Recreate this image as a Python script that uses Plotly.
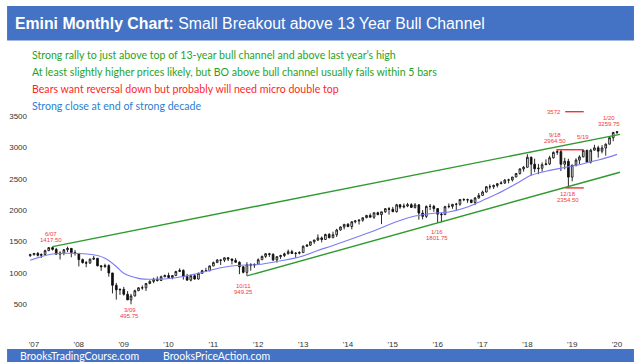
import plotly.graph_objects as go
import pandas as pd

# ---------------- data (monthly OHLC, Dec 2006 .. Jan 2020, back-adjusted Emini) ----------------
open_2006 = [1271]
high_2006 = [1302]
low_2006 = [1255]
close_2006 = [1288]

open_2007 = [1288, 1308, 1277, 1291, 1352, 1401, 1373, 1295, 1314, 1367, 1389, 1321]
high_2007 = [1311, 1331, 1308, 1368, 1405, 1417.5, 1396, 1343, 1379, 1416, 1392, 1363]
low_2007 = [1273, 1260, 1234, 1286, 1346, 1354, 1294, 1211, 1279, 1330, 1247, 1275]
close_2007 = [1308, 1277, 1291, 1352, 1401, 1373, 1295, 1314, 1367, 1389, 1321, 1308]

open_2008 = [1308, 1209, 1161, 1153, 1216, 1230, 1110, 1097, 1113, 996, 799, 726]
high_2008 = [1312, 1226, 1189, 1228, 1270, 1235, 1122, 1144, 1134, 997, 837, 749]
low_2008 = [1100, 1147, 1087, 1145, 1203, 1102, 1030, 1078, 937, 670, 571, 645]
close_2008 = [1209, 1161, 1153, 1216, 1230, 1110, 1097, 1113, 996, 799, 726, 733]

open_2009 = [733, 656, 566, 628, 713, 759, 759, 827, 861, 897, 876, 936]
high_2009 = [774, 706, 662, 728, 770, 796, 836, 879, 920, 941, 953, 970]
low_2009 = [635, 565, 495.75, 623, 706, 728, 709, 818, 832, 860, 869, 926]
close_2009 = [656, 566, 628, 713, 759, 759, 827, 861, 897, 876, 936, 955]

open_2010 = [955, 924, 954, 1019, 1037, 939, 881, 952, 899, 991, 1033, 1031]
high_2010 = [1000, 963, 1031, 1070, 1053, 981, 970, 979, 1000, 1046, 1078, 1113]
low_2010 = [921, 895, 952, 1017, 890, 879, 861, 890, 890, 982, 1023, 1024]
close_2010 = [924, 954, 1019, 1037, 939, 881, 952, 899, 991, 1033, 1031, 1108]

open_2011 = [1108, 1161, 1202, 1201, 1239, 1220, 1196, 1167, 1094, 1006, 1128, 1122]
high_2011 = [1178, 1219, 1208, 1241, 1246, 1221, 1232, 1182, 1105, 1168, 1152, 1145]
low_2011 = [1105, 1159, 1124, 1170, 1186, 1133, 1157, 977, 989, 949.25, 1033, 1077]
close_2011 = [1161, 1202, 1201, 1239, 1220, 1196, 1167, 1094, 1006, 1128, 1122, 1133]

open_2012 = [1133, 1207, 1261, 1303, 1293, 1205, 1257, 1274, 1302, 1336, 1307, 1311]
high_2012 = [1229, 1273, 1315, 1317, 1311, 1258, 1287, 1321, 1370, 1366, 1330, 1343]
low_2012 = [1133, 1207, 1236, 1253, 1187, 1162, 1220, 1250, 1292, 1298, 1238, 1294]
close_2012 = [1207, 1261, 1303, 1293, 1205, 1257, 1274, 1302, 1336, 1307, 1311, 1321]

open_2013 = [1321, 1423, 1440, 1494, 1523, 1556, 1531, 1611, 1558, 1607, 1682, 1731]
high_2013 = [1435, 1455, 1495, 1523, 1612, 1579, 1623, 1634, 1655, 1701, 1738, 1774]
low_2013 = [1321, 1410, 1426, 1461, 1506, 1485, 1530, 1552, 1558, 1571, 1672, 1693]
close_2013 = [1423, 1440, 1494, 1523, 1556, 1531, 1611, 1558, 1607, 1682, 1731, 1773]

open_2014 = [1775, 1738, 1814, 1827, 1839, 1879, 1915, 1886, 1958, 1927, 1973, 2023]
high_2014 = [1790, 1822, 1839, 1852, 1879, 1923, 1947, 1960, 1974, 1973, 2031, 2048]
low_2014 = [1726, 1693, 1789, 1770, 1814, 1870, 1886, 1860, 1920, 1776, 1956, 1928]
close_2014 = [1738, 1814, 1827, 1839, 1879, 1915, 1886, 1958, 1927, 1973, 2023, 2014]

open_2015 = [2014, 1975, 2085, 2048, 2066, 2087, 2043, 2084, 1952, 1900, 2059, 2060]
high_2015 = [2052, 2100, 2097, 2106, 2115, 2110, 2113, 2093, 2001, 2074, 2097, 2084]
low_2015 = [1968, 1960, 2019, 2028, 2047, 2037, 2024, 1847, 1852, 1874, 1999, 1973]
close_2015 = [1975, 2085, 2048, 2066, 2087, 2043, 2084, 1952, 1900, 2059, 2060, 2024]

open_2016 = [2024, 1935, 1927, 2055, 2060, 2092, 2094, 2169, 2166, 2163, 2121, 2194]
high_2016 = [2030, 1958, 2068, 2107, 2099, 2116, 2173, 2189, 2183, 2164, 2209, 2273]
low_2016 = [1801.75, 1805, 1927, 2029, 2021, 1987, 2070, 2143, 2115, 2110, 2079, 2183]
close_2016 = [1935, 1927, 2055, 2060, 2092, 2094, 2169, 2166, 2163, 2121, 2194, 2234]

open_2017 = [2234, 2289, 2374, 2373, 2394, 2422, 2433, 2480, 2482, 2529, 2585, 2658]
high_2017 = [2311, 2382, 2411, 2408, 2428, 2464, 2494, 2501, 2529, 2592, 2667, 2705]
low_2017 = [2233, 2281, 2332, 2339, 2362, 2415, 2418, 2427, 2456, 2525, 2567, 2615]
close_2017 = [2289, 2374, 2373, 2394, 2422, 2433, 2480, 2482, 2529, 2585, 2658, 2684]

open_2018 = [2684, 2844, 2734, 2661, 2668, 2725, 2738, 2836, 2922, 2934, 2732, 2780]
high_2018 = [2893, 2855, 2821, 2738, 2762, 2811, 2868, 2937, 2964.5, 2960, 2836, 2820]
low_2018 = [2680, 2553, 2605, 2573, 2614, 2718, 2719, 2823, 2884, 2624, 2651, 2354.5]
close_2018 = [2844, 2734, 2661, 2668, 2725, 2738, 2836, 2922, 2934, 2732, 2780, 2527]

open_2019 = [2527, 2719, 2799, 2849, 2955, 2767, 2957, 2995, 2941, 2992, 3053, 3156]
high_2019 = [2723, 2828, 2875, 2960, 2964.5, 2979, 3043, 3029, 3037, 3065, 3169, 3250]
low_2019 = [2459, 2697, 2737, 2845, 2766, 2744, 2952, 2837, 2906, 2870, 3050, 3100]
close_2019 = [2719, 2799, 2849, 2955, 2767, 2957, 2995, 2941, 2992, 3053, 3156, 3240]

open_2020 = [3240]
high_2020 = [3259.75]
low_2020 = [3215]
close_2020 = [3252]

years = ["2006", "2007", "2008", "2009", "2010", "2011", "2012", "2013",
         "2014", "2015", "2016", "2017", "2018", "2019", "2020"]
g = globals()
opens = sum([g["open_" + y] for y in years], [])
highs = sum([g["high_" + y] for y in years], [])
lows = sum([g["low_" + y] for y in years], [])
closes = sum([g["close_" + y] for y in years], [])
months = pd.date_range("2006-12-01", periods=len(closes), freq="MS")

# moving average (blue line)
ma_dates = ["2006-12-01", "2007-06-01", "2007-11-01", "2008-06-01", "2008-08-01", "2008-11-01",
            "2009-01-01", "2009-05-01", "2009-09-01", "2010-03-01", "2010-09-01", "2011-03-01",
            "2011-08-01", "2012-01-01", "2012-07-01", "2012-12-01", "2013-05-01", "2013-09-01",
            "2014-06-01", "2015-03-01", "2015-07-01", "2015-12-01", "2016-04-01", "2016-09-01",
            "2017-01-01", "2017-05-01", "2017-10-01", "2018-02-01", "2018-07-01", "2018-11-01",
            "2019-04-01", "2019-08-01", "2019-11-01", "2020-01-01"]
ma_values = [1200, 1300, 1310, 1275, 1230, 1100, 990, 910, 895, 920, 990, 1080,
             1120, 1130, 1190, 1250, 1355, 1435, 1625, 1835, 1905, 1950, 1970, 2050,
             2155, 2260, 2420, 2555, 2635, 2680, 2740, 2800, 2850, 2890]

# bull channel lines
upper_dates = ["2007-06-01", "2020-01-25"]
upper_values = [1417.5, 3210]
lower_dates = ["2011-10-01", "2020-01-25"]
lower_values = [949.25, 2605]

# red horizontal levels
top_line_dates = ["2018-08-25", "2019-04-05"]
top_line_values = [2964.5, 2964.5]
low_line_dates = ["2018-11-05", "2019-04-05"]
low_line_values = [2354.5, 2354.5]
target_line_dates = ["2018-11-05", "2019-04-05"]
target_line_values = [3572, 3572]

tick_dates = ["%d-01-01" % y for y in range(2007, 2021)]
tick_text = ["'%02d" % (y % 100) for y in range(2007, 2021)]
ytick_vals = [500, 1000, 1500, 2000, 2500, 3000, 3500]

# price labels: (line1, line2, x_px, y1_px, y2_px)
price_labels = [
    ("6/07", "1417.50", 49.5, 233.5, 239.5),
    ("3/09", "495.75", 128, 309.5, 315.5),
    ("10/11", "949.25", 242.7, 285.8, 291.8),
    ("1/16", "1801.75", 436, 231.5, 237.5),
    ("9/18", "2964.50", 554.5, 134.5, 140.5),
    ("12/18", "2354.50", 567.5, 194, 200),
    ("1/20", "3259.75", 608.8, 117.5, 124),
]
single_labels = [("5/19", 583.3, 136.7), ("3572", 554, 111.8)]

title_bold = "Emini Monthly Chart:"
title_rest = "Small Breakout above 13 Year Bull Channel"
comments = [
    ("Strong rally to just above top of 13-year bull channel and above last year\u2019s high", "#1FA31F"),
    ("At least slightly higher prices likely, but BO above bull channel usually fails within 5 bars", "#1FA31F"),
    ("Bears want reversal down but probably will need micro double top", "#FF1F1F"),
    ("Strong close at end of strong decade", "#2A7FD4"),
]
footer_texts = [("BrooksTradingCourse.com", 18), ("BrooksPriceAction.com", 161)]

# ---------------- layout helpers (pixel -> paper) ----------------
W, H = 634, 362
ML, MR, MT, MB = 26, 9, 110, 27
PW = W - ML - MR
PH = H - MT - MB


def px(x):
    return (x - ML) / PW


def py(y):
    return (H - MB - y) / PH


fig = go.Figure()

fig.add_trace(go.Scatter(x=ma_dates, y=ma_values, mode="lines",
                         line=dict(color="#7B7BF5", width=1.1, shape="spline", smoothing=1.0),
                         hoverinfo="skip", showlegend=False))
fig.add_trace(go.Scatter(x=upper_dates, y=upper_values, mode="lines",
                         line=dict(color="#2E9A2E", width=1.4), showlegend=False))
fig.add_trace(go.Scatter(x=lower_dates, y=lower_values, mode="lines",
                         line=dict(color="#2E9A2E", width=1.4), showlegend=False))
for d, v in [(top_line_dates, top_line_values), (low_line_dates, low_line_values),
             (target_line_dates, target_line_values)]:
    fig.add_trace(go.Scatter(x=d, y=v, mode="lines",
                             line=dict(color="#F0333A", width=1.4), showlegend=False))

fig.add_trace(go.Candlestick(
    x=months, open=opens, high=highs, low=lows, close=closes,
    increasing=dict(line=dict(color="#111111", width=0.9), fillcolor="white"),
    decreasing=dict(line=dict(color="#111111", width=0.9), fillcolor="#111111"),
    whiskerwidth=0, showlegend=False))

shapes = [
    dict(type="rect", xref="paper", yref="paper", x0=px(5), x1=px(634), y0=py(40.5), y1=py(6),
         fillcolor="#4472C4", line=dict(width=0), layer="below"),
    dict(type="rect", xref="paper", yref="paper", x0=px(5), x1=px(634), y0=py(362), y1=py(349),
         fillcolor="#4472C4", line=dict(width=0), layer="below"),
]

ann = []
ann.append(dict(xref="paper", yref="paper", x=px(11), y=py(23.5), xanchor="left", yanchor="middle",
                text="<b>%s</b> %s" % (title_bold, title_rest), showarrow=False,
                font=dict(family="Liberation Sans, Arial", size=15.8, color="white")))
for i, (txt, col) in enumerate(comments):
    ann.append(dict(xref="paper", yref="paper", x=px(28), y=py(55 + 17 * i), xanchor="left",
                    yanchor="middle", text=txt, showarrow=False,
                    font=dict(family="Lato, Open Sans, sans-serif", size=10.6, color=col)))
for txt, x0 in footer_texts:
    ann.append(dict(xref="paper", yref="paper", x=px(x0 - 2), y=py(355.5), xanchor="left",
                    yanchor="middle", text=txt, showarrow=False,
                    font=dict(family="Lato, Open Sans, sans-serif", size=10.5, color="white")))
lab_font = dict(family="Liberation Sans, Arial", size=6, color="#F03A3A")
for l1, l2, x0, y1, y2 in price_labels:
    ann.append(dict(xref="paper", yref="paper", x=px(x0), y=py(y1), xanchor="center",
                    yanchor="middle", text=l1, showarrow=False, font=lab_font))
    ann.append(dict(xref="paper", yref="paper", x=px(x0), y=py(y2), xanchor="center",
                    yanchor="middle", text=l2, showarrow=False, font=lab_font))
for l1, x0, y1 in single_labels:
    ann.append(dict(xref="paper", yref="paper", x=px(x0), y=py(y1), xanchor="center",
                    yanchor="middle", text=l1, showarrow=False, font=lab_font))

fig.update_layout(
    width=W, height=H,
    margin=dict(l=ML, r=MR, t=MT, b=MB, pad=0),
    paper_bgcolor="white", plot_bgcolor="white",
    shapes=shapes, annotations=ann,
    showlegend=False,
    xaxis=dict(type="date", range=["2006-11-13", "2020-03-06"], rangeslider=dict(visible=False),
               tickvals=tick_dates, ticktext=tick_text, showgrid=False, zeroline=False,
               showline=False, ticks="", ticklabelstandoff=3,
               tickfont=dict(family="Liberation Sans, Arial", size=8, color="#333333")),
    yaxis=dict(range=[5, 3599], tickvals=ytick_vals, ticktext=[str(v) for v in ytick_vals],
               showgrid=False, zeroline=False, showline=False, ticks="",
               tickfont=dict(family="Liberation Sans, Arial", size=8, color="#333333")),
)

fig.write_html("out.html", config={"displayModeBar": False},
               post_script="document.body.style.margin='0px';document.body.style.overflow='hidden';")
